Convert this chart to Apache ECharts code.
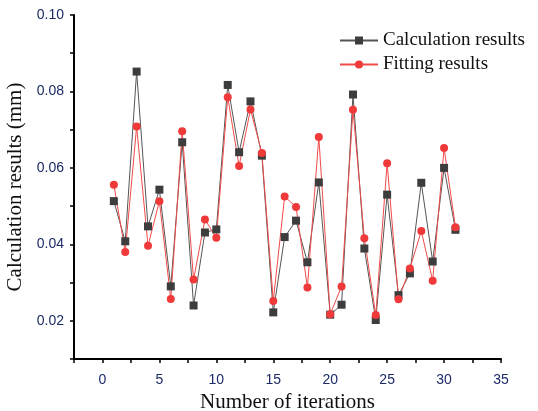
<!DOCTYPE html>
<html>
<head>
<meta charset="utf-8">
<script src="https://cdn.jsdelivr.net/npm/echarts@6/dist/echarts.min.js"></script>
<style>
  html, body { margin: 0; padding: 0; background: #fff; }
  #chart { width: 538px; height: 411px; }
</style>
</head>
<body>
<div id="chart"></div>
<script>
const iterations = [1, 2, 3, 4, 5, 6, 7, 8, 9, 10, 11, 12, 13, 14, 15, 16, 17, 18, 19, 20, 21, 22, 23, 24, 25, 26, 27, 28, 29, 30, 31]
const calcResults = [0.0513, 0.0408, 0.0852, 0.0447, 0.0543, 0.0290, 0.0667, 0.0240, 0.0431, 0.0439,
  0.0817, 0.0641, 0.0774, 0.0632, 0.0222, 0.0419, 0.0462, 0.0353, 0.0562, 0.0216,
  0.0242, 0.0792, 0.0389, 0.0202, 0.0530, 0.0267, 0.0324, 0.0561, 0.0355, 0.0600, 0.0438]
const fitResults = [0.0556, 0.0380, 0.0708, 0.0396, 0.0513, 0.0257, 0.0696, 0.0308, 0.0465, 0.0417,
  0.0785, 0.0605, 0.0753, 0.0639, 0.0252, 0.0525, 0.0498, 0.0287, 0.0681, 0.0217,
  0.0290, 0.0752, 0.0416, 0.0215, 0.0612, 0.0256, 0.0337, 0.0435, 0.0305, 0.0652, 0.0445]
const xLabels = [0, 5, 10, 15, 20, 25, 30, 35]
const yLabels = [0.02, 0.04, 0.06, 0.08, 0.10]
const xMin = -2.5
const yMin = 0.01

const serif = '"Liberation Serif", "Times New Roman", serif'
const sans = '"Liberation Sans", Arial, sans-serif'
const labelColor = '#1c2b66'

const chart = echarts.init(document.getElementById('chart'))

chart.setOption({
  animation: false,
  legend: {
    orient: 'vertical',
    left: 334,
    top: 26,
    itemWidth: 38,
    itemHeight: 10,
    itemGap: 5,
    textStyle: { fontFamily: serif, fontSize: 19, color: '#111' },
    data: ['Calculation results', 'Fitting results'],
  },
  grid: { left: 74, right: 37, top: 15, bottom: 52, outerBoundsMode: 'none', containLabel: false },
  xAxis: {
    type: 'value',
    min: xMin,
    max: 35,
    interval: 2.5,
    splitLine: { show: false },
    name: 'Number of iterations',
    nameLocation: 'middle',
    nameGap: 33,
    nameTextStyle: { fontFamily: serif, fontSize: 21, color: '#111' },
    axisLine: { show: true, onZero: false, lineStyle: { color: '#000', width: 2 } },
    axisTick: { show: true, length: 4, lineStyle: { color: '#000', width: 1.5 } },
    axisLabel: { customValues: xLabels, margin: 14, fontFamily: sans, fontSize: 14, color: labelColor },
  },
  yAxis: {
    type: 'value',
    min: yMin,
    max: 0.10,
    interval: 0.01,
    splitLine: { show: false },
    name: 'Calculation results (mm)',
    nameLocation: 'middle',
    nameGap: 42,
    nameTextStyle: { fontFamily: serif, fontSize: 21, color: '#111' },
    axisLine: { show: true, onZero: false, lineStyle: { color: '#000', width: 2 } },
    axisTick: { show: true, length: 4, lineStyle: { color: '#000', width: 1.5 } },
    axisLabel: {
      customValues: yLabels,
      margin: 10,
      fontFamily: sans,
      fontSize: 14,
      color: labelColor,
      formatter: v => v.toFixed(2),
    },
  },
  series: [
    {
      name: 'Calculation results',
      type: 'line',
      data: iterations.map((x, i) => [x, calcResults[i]]),
      symbol: 'rect',
      symbolSize: 8,
      itemStyle: { color: '#3d3d3d' },
      lineStyle: { color: '#555', width: 1 },
      // backup for the axis frame lines (left and bottom)
      markLine: {
        silent: true,
        symbol: 'none',
        label: { show: false },
        lineStyle: { color: '#000', width: 2, type: 'solid' },
        data: [{ xAxis: xMin }, { yAxis: yMin }],
      },
    },
    {
      name: 'Fitting results',
      type: 'line',
      data: iterations.map((x, i) => [x, fitResults[i]]),
      symbol: 'circle',
      symbolSize: 8,
      itemStyle: { color: '#f03a3a' },
      lineStyle: { color: '#f04a4a', width: 1 },
    },
  ],
})
</script>
</body>
</html>
